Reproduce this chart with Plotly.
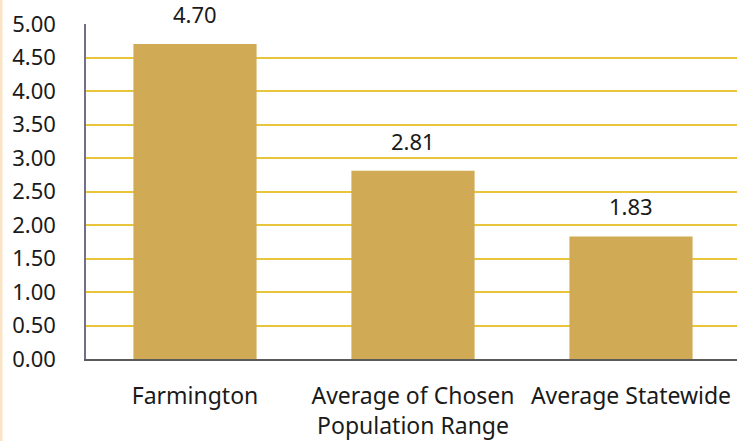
import plotly.graph_objects as go

# Values per category
categories = ["Farmington", "Average of Chosen<br>Population Range", "Average Statewide"]
values = [4.70, 2.81, 1.83]
value_labels = ["4.70", "2.81", "1.83"]
y_ticks = [0, 0.5, 1, 1.5, 2, 2.5, 3, 3.5, 4, 4.5, 5]
y_tick_labels = ["0.00", "0.50", "1.00", "1.50", "2.00", "2.50", "3.00", "3.50", "4.00", "4.50", "5.00"]

W, H = 737, 441
ML, MR, MT, MB = 86, 0, 24, 82
plot_w = W - ML - MR

BAR_COLOR = "#D1AA55"
GRID_COLOR = "#E8C53A"
FONT = "Noto Sans"
TEXT_COLOR = "#1a1a1a"

fig = go.Figure(
    go.Bar(
        x=list(range(len(categories))),
        y=values,
        marker=dict(color=BAR_COLOR, line=dict(width=0)),
        width=0.565,
        hoverinfo="skip",
    )
)

# value labels sit a little above each bar
for i, (v, lab) in enumerate(zip(values, value_labels)):
    fig.add_annotation(
        x=i,
        y=v,
        text=lab,
        showarrow=False,
        yanchor="bottom",
        yshift=13,
        font=dict(family=FONT, size=22, color=TEXT_COLOR),
    )

# each category slot is 218 px wide; the last slot runs past the right edge
px_per_cat = 218
x_max = -0.5 + plot_w / px_per_cat

fig.update_layout(
    width=W,
    height=H,
    margin=dict(l=ML, r=MR, t=MT, b=MB, pad=0),
    paper_bgcolor="white",
    plot_bgcolor="white",
    showlegend=False,
    font=dict(family=FONT, size=22, color=TEXT_COLOR),
    xaxis=dict(
        range=[-0.5, x_max],
        tickmode="array",
        tickvals=list(range(len(categories))),
        ticktext=categories,
        showgrid=False,
        showline=True,
        linecolor="#5a5a5a",
        linewidth=1.5,
        ticks="",
        ticklabelstandoff=16,
        tickfont=dict(family=FONT, size=23, color=TEXT_COLOR),
        zeroline=False,
    ),
    yaxis=dict(
        range=[0, 5],
        tickmode="array",
        tickvals=y_ticks,
        ticktext=y_tick_labels,
        showgrid=True,
        gridcolor=GRID_COLOR,
        gridwidth=2,
        showline=True,
        linecolor="#707088",
        linewidth=1.5,
        ticks="",
        ticklabelstandoff=24,
        tickfont=dict(family=FONT, size=22, color=TEXT_COLOR),
        zeroline=False,
    ),
    shapes=[
        # thin peach strip along the left edge of the page
        dict(
            type="rect",
            xref="paper",
            yref="paper",
            x0=(0 - ML) / plot_w,
            x1=(2.5 - ML) / plot_w,
            y0=-MB / (H - MT - MB),
            y1=1 + MT / (H - MT - MB),
            fillcolor="#FBE3C6",
            line=dict(width=0),
            layer="below",
        )
    ],
)

fig.write_html("out.html")
